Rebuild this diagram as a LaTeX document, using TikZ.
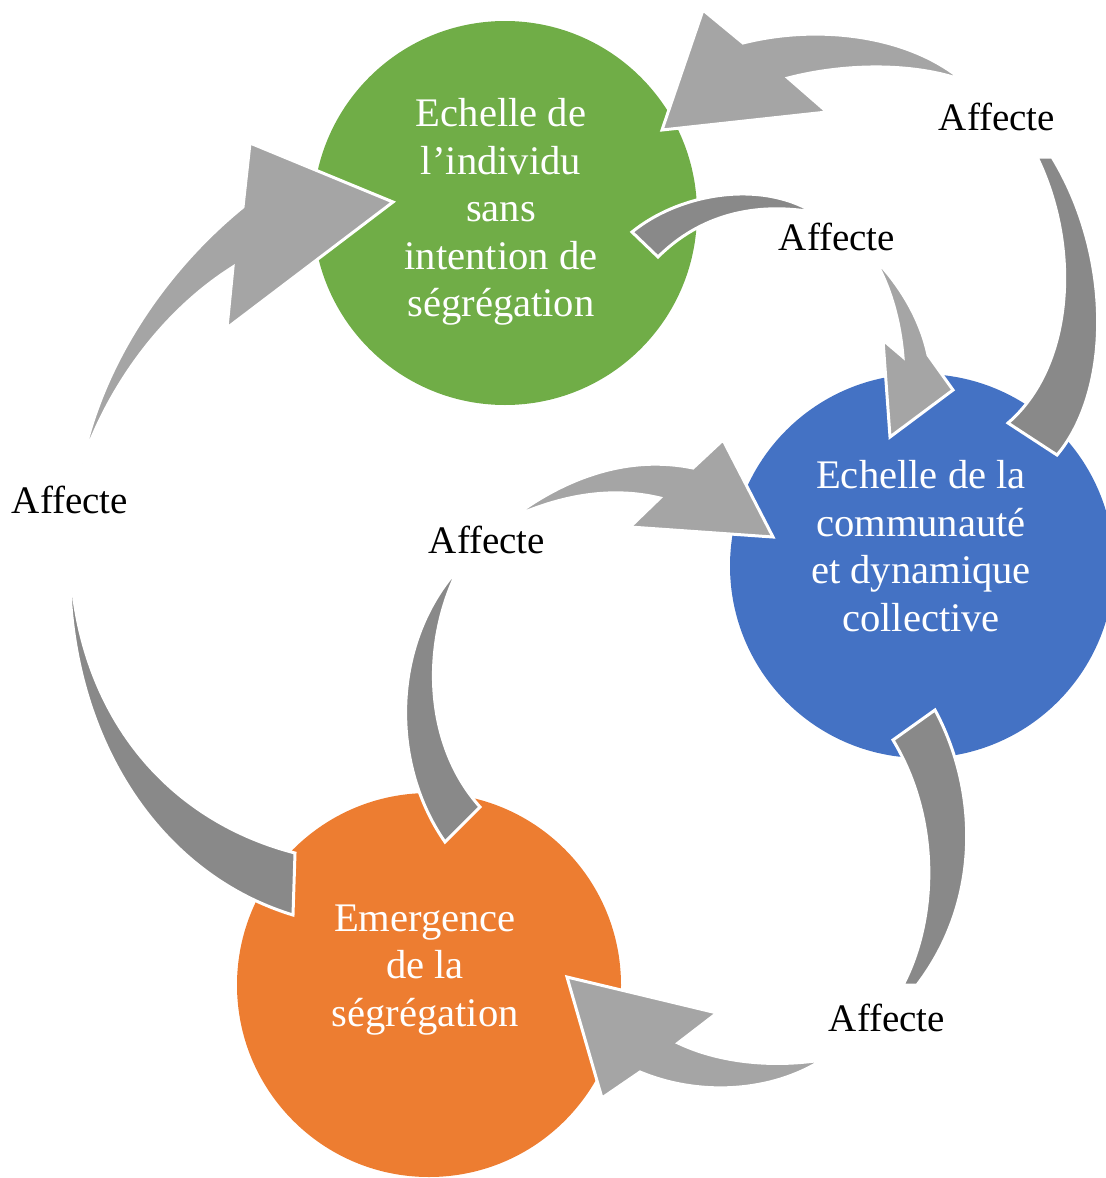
\documentclass[tikz,border=0pt]{standalone}
\usepackage{fontspec}
\setmainfont{Liberation Serif}
\definecolor{indivgreen}{HTML}{70AD47}
\definecolor{commublue}{HTML}{4472C4}
\definecolor{segregorange}{HTML}{ED7D31}
\definecolor{taildark}{HTML}{898989}
\definecolor{headlight}{HTML}{A5A5A5}

\begin{document}
\begin{tikzpicture}[x=0.5pt,y=-0.5pt,
  bubble/.style={circle,minimum size=192pt,inner sep=0pt,outer sep=0pt},
  bubbletxt/.style={text=white,align=center,font=\fontsize{20.3}{23.75}\selectfont},
  lbl/.style={outer sep=0pt,font=\fontsize{19.5}{23}\selectfont},
  darktail/.style={fill=taildark,draw=white,line width=1.5pt},
  lighthead/.style={fill=headlight,draw=white,line width=1.5pt}]
\useasboundingbox (0,0) rectangle (1105,1178);

\node[bubble,fill=indivgreen] (indiv) at (505,213) [] {};
\node[bubble,fill=commublue] (commu) at (922,566) [] {};
\node[bubble,fill=segregorange] (segreg) at (429,985) [] {};

\node[bubbletxt] (indivtxt) at (501,212) [] {Echelle de\\l’individu\\sans\\intention de\\ségrégation};
\node[bubbletxt] (commutxt) at (921,546) [] {Echelle de la\\communauté\\et dynamique\\collective};
\node[bubbletxt] (segregtxt) at (425,970) [] {Emergence\\de la\\ségrégation};

% individu -> communaute (inner)
\draw[darktail] (632,232) .. controls (680,193) and (760,180) .. (813,212)
  .. controls (755,202) and (700,215) .. (658,257) -- cycle;
\draw[lighthead] (873,257) .. controls (903,288) and (921,322) .. (928,355)
  -- (953,390) -- (890,437) -- (883,340) -- (903,357)
  .. controls (900,320) and (890,285) .. (873,257) -- cycle;

% communaute -> individu (outer)
\draw[darktail] (1008,423) .. controls (1072,368) and (1082,250) .. (1037,157)
  -- (1052,157) .. controls (1112,255) and (1112,390) .. (1057,455) -- cycle;
\draw[lighthead] (962,80) .. controls (908,35) and (818,24) .. (743,43)
  -- (703,10) -- (662,130) -- (827,112) -- (788,78)
  .. controls (850,62) and (918,64) .. (962,80) -- cycle;

% segregation -> individu (left)
\draw[darktail] (295,853) .. controls (160,818) and (72,705) .. (70,547)
  .. controls (62,725) and (152,872) .. (293,915) -- cycle;
\draw[lighthead] (82,463) .. controls (103,360) and (168,268) .. (243,207)
  -- (250,143) -- (393,202) -- (227,328) -- (233,267)
  .. controls (168,308) and (112,378) .. (82,463) -- cycle;

% segregation -> communaute (middle)
\draw[darktail] (445,842) .. controls (388,760) and (393,640) .. (459,568)
  .. controls (422,640) and (422,742) .. (480,807) -- cycle;
\draw[lighthead] (513,517) .. controls (568,476) and (630,455) .. (693,468)
  -- (723,440) -- (773,537) -- (630,527) -- (660,498)
  .. controls (610,486) and (560,496) .. (513,517) -- cycle;

% communaute -> segregation (right)
\draw[darktail] (893,740) .. controls (940,818) and (938,918) .. (903,985)
  -- (917,985) .. controls (982,900) and (978,790) .. (935,710) -- cycle;
\draw[lighthead] (822,1060) .. controls (770,1068) and (718,1062) .. (678,1043)
  -- (717,1013) -- (567,977) -- (602,1098) -- (640,1072)
  .. controls (700,1097) and (772,1092) .. (822,1060) -- cycle;

\node[lbl] (affb) at (997,117) [] {Affecte};
\node[lbl] (affa) at (837,237) [] {Affecte};
\node[lbl] (affc) at (70,500) [] {Affecte};
\node[lbl] (affd) at (487,540) [] {Affecte};
\node[lbl] (affe) at (887,1018) [] {Affecte};

\end{tikzpicture}
\end{document}
